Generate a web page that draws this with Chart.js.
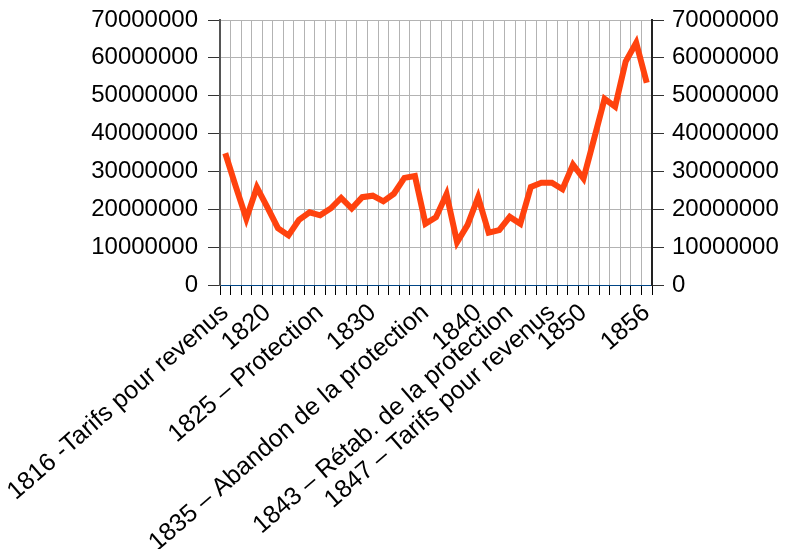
<!DOCTYPE html>
<html lang="fr">
<head>
<meta charset="UTF-8" />
<title>Recettes douanières 1816-1856</title>
<script src="https://cdn.jsdelivr.net/npm/chart.js@4"></script>
<style>
  html, body { margin: 0; padding: 0; background: #fff; }
  #wrap { width: 791px; height: 549px; position: relative; }
</style>
</head>
<body>
<div id="wrap"><canvas id="chart"></canvas></div>
<script>
// years on the category axis
const years = [];
for (let y = 1816; y <= 1856; y++) years.push(String(y));

// labels shown under some years only
const tickLabels = {
  "1816": "1816 -Tarifs pour revenus",
  "1820": "1820",
  "1825": "1825 – Protection",
  "1830": "1830",
  "1835": "1835 – Abandon de la protection",
  "1840": "1840",
  "1843": "1843 – Rétab. de la protection",
  "1847": "1847 – Tarifs pour revenus",
  "1850": "1850",
  "1856": "1856"
};

// values, one per year
const values = [
  34800000, 26000000, 17500000, 25800000, 20500000, 15000000, 13100000, 17200000,
  19200000, 18400000, 20200000, 23000000, 20200000, 23200000, 23600000, 22100000,
  24100000, 28300000, 28800000, 16200000, 17900000, 24000000, 11300000, 15900000,
  23200000, 13800000, 14500000, 18000000, 16200000, 25900000, 27000000, 27000000,
  25300000, 31800000, 28100000, 38600000, 49200000, 47100000, 59000000, 64000000,
  53400000
];

const yTicks = [0, 10000000, 20000000, 30000000, 40000000, 50000000, 60000000, 70000000];

const yFont = { family: "'Liberation Sans', Arial, sans-serif", size: 24 };
const xFont = { family: "'Liberation Sans', Arial, sans-serif", size: 25 };

// fixed box sizes so the plot area lands where it does in the picture
function fixY(width) {
  return s => { s.width = width; s.paddingTop = 0; s.paddingBottom = 0; };
}

new Chart(document.getElementById("chart"), {
  type: "line",
  data: {
    labels: years,
    datasets: [{
      data: values,
      borderColor: "#ff420e",
      backgroundColor: "#ff420e",
      borderWidth: 6,
      pointRadius: 0,
      tension: 0,
      yAxisID: "y"
    }]
  },
  options: {
    responsive: true,
    maintainAspectRatio: false,
    animation: false,
    layout: { padding: { top: 20, left: 0, right: 0, bottom: 0 } },
    plugins: { legend: { display: false }, tooltip: { enabled: false } },
    scales: {
      x: {
        type: "category",
        offset: true,
        grid: {
          offset: true,
          color: "#b3b3b3",
          tickColor: "#000",
          tickLength: 10,
          lineWidth: 1
        },
        border: { color: "#004586", width: 1 },
        ticks: {
          autoSkip: false,
          minRotation: 41,
          maxRotation: 41,
          padding: 3,
          color: "#000",
          font: xFont,
          callback: function (v) {
            const y = this.getLabelForValue(v);
            return tickLabels[y] || "";
          }
        },
        afterFit: s => { s.height = 264; }
      },
      y: {
        position: "left",
        min: 0,
        max: 70000000,
        afterBuildTicks: s => { s.ticks = yTicks.map(v => ({ value: v })); },
        grid: { color: "#b3b3b3", tickColor: "#333", tickLength: 12 },
        border: { color: "#555", width: 2 },
        ticks: { color: "#000", font: yFont, padding: 10, callback: v => String(v) },
        afterFit: fixY(220)
      },
      y2: {
        position: "right",
        min: 0,
        max: 70000000,
        afterBuildTicks: s => { s.ticks = yTicks.map(v => ({ value: v })); },
        grid: { drawOnChartArea: false, tickColor: "#333", tickLength: 12 },
        border: { color: "#222", width: 2 },
        ticks: { color: "#000", font: yFont, padding: 8, callback: v => String(v) },
        afterFit: fixY(139)
      }
    }
  }
});
</script>
</body>
</html>
